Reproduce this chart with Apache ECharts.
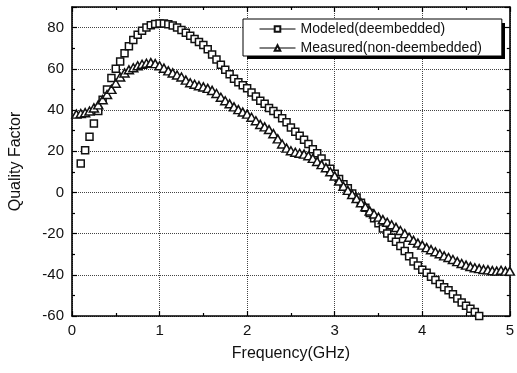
<!DOCTYPE html>
<html>
<head>
<meta charset="utf-8">
<script src="https://cdn.jsdelivr.net/npm/echarts@6/dist/echarts.min.js"></script>
<style>
html, body { margin: 0; padding: 0; background: #fff; }
#main { width: 517px; height: 373px; }
</style>
</head>
<body>
<div id="main"></div>
<script>
// Modeled (deembedded) - squares
var modeledFreq = [0.10,0.15,0.20,0.25,0.30,0.35,0.40,0.45,0.50,0.55,0.60,0.65,0.70,0.75,0.80,0.85,0.90,0.95,1.00,1.05,
    1.10,1.15,1.20,1.25,1.30,1.35,1.40,1.45,1.50,1.55,1.60,1.65,1.70,1.75,1.80,1.85,1.90,1.95,2.00,2.05,
    2.10,2.15,2.20,2.25,2.30,2.35,2.40,2.45,2.50,2.55,2.60,2.65,2.70,2.75,2.80,2.85,2.90,2.95,3.00,3.05,
    3.10,3.15,3.20,3.25,3.30,3.35,3.40,3.45,3.50,3.55,3.60,3.65,3.70,3.75,3.80,3.85,3.90,3.95,4.00,4.05,
    4.10,4.15,4.20,4.25,4.30,4.35,4.40,4.45,4.50,4.55,4.60,4.65];
var modeledQ = [14,20.5,27,33.5,39.5,45,50,55.5,60,63.5,67.5,71,74,76.5,78.5,80,81.2,81.8,82,82,
    81.6,81,80,78.8,77.5,76,74.5,73,71.5,69.5,67,64.5,62,59.5,57.3,55.2,53.5,52,50.5,48.5,
    46.5,44.5,43,41,39.5,38,36,34,31.5,29.5,27.5,25.5,23.5,21,19,16.5,14,11.5,9,6.5,
    4,2,-0.5,-2.5,-5,-7.5,-10,-12.5,-15,-17.5,-20,-22,-24,-26,-28.5,-31,-33.5,-35.5,-37.5,-39,
    -41,-42.5,-44.5,-46,-47.5,-49.5,-51.5,-53.5,-55,-56.5,-58,-60];

// Measured (non-deembedded) - triangles
var measuredFreq = [0.05,0.10,0.15,0.20,0.25,0.30,0.35,0.40,0.45,0.50,0.55,0.60,0.65,0.70,0.75,0.80,0.85,0.90,0.95,1.00,
    1.05,1.10,1.15,1.20,1.25,1.30,1.35,1.40,1.45,1.50,1.55,1.60,1.65,1.70,1.75,1.80,1.85,1.90,1.95,2.00,
    2.05,2.10,2.15,2.20,2.25,2.30,2.35,2.40,2.45,2.50,2.55,2.60,2.65,2.70,2.75,2.80,2.85,2.90,2.95,3.00,
    3.05,3.10,3.15,3.20,3.25,3.30,3.35,3.40,3.45,3.50,3.55,3.60,3.65,3.70,3.75,3.80,3.85,3.90,3.95,4.00,
    4.05,4.10,4.15,4.20,4.25,4.30,4.35,4.40,4.45,4.50,4.55,4.60,4.65,4.70,4.75,4.80,4.85,4.90,4.95,5.00];
var measuredQ = [38,38.3,38.7,39.5,41,42.5,45,47.5,50,53,56,58,59.5,60.5,61.5,62.2,62.7,63,62.5,61.5,
    60.3,59,58,57,56,54.5,53.2,52.5,51.8,51.2,50.5,49.5,48,46.2,44.5,43,41.5,40.2,39,38,
    36.5,34.8,33,31.8,30.5,28.5,26,23.5,21.5,20.2,19.5,19,18.6,17.8,16.5,15,13.5,12,10,8,
    5.5,3,1,-1,-3,-5,-7,-9,-10.5,-12,-13.2,-14.5,-15.7,-17,-18.5,-20,-21.8,-23.3,-24.6,-25.6,
    -26.8,-27.8,-28.8,-29.8,-30.8,-31.6,-32.6,-33.6,-34.5,-35.3,-36,-36.6,-37,-37.4,-37.6,-38,-38.2,-37.8,-38.2,-38.2];

var seriesNames = ['Modeled(deembedded)', 'Measured(non-deembedded)'];

function pairs(xs, ys) {
    var res = [];
    for (var i = 0; i < xs.length; i++) res.push([xs[i], ys[i]]);
    return res;
}

var font = 'Liberation Sans, Arial, sans-serif';
var myChart = echarts.init(document.getElementById('main'), null, {renderer: 'canvas'});

var frameAxis = {
    axisLine: {show: true, onZero: false, lineStyle: {color: '#000', width: 1.6}},
    axisTick: {show: true, inside: true, length: 5, lineStyle: {color: '#000', width: 1.2}},
    minorTick: {show: true, splitNumber: 2, length: 3, lineStyle: {color: '#000', width: 1.2}},
    axisLabel: {show: false},
    splitLine: {show: false}
};

var option = {
    animation: false,
    grid: {left: 69, right: 4, top: 7, bottom: 57},
    // solid drop shadow behind the legend box
    graphic: [{
        type: 'rect',
        left: 247, top: 23, z: 3,
        shape: {width: 258, height: 36},
        style: {fill: '#000'}
    }],
    legend: {
        data: seriesNames,
        orient: 'vertical',
        left: 243,
        top: 19,
        z: 5,
        itemWidth: 36,
        itemHeight: 7,
        itemGap: 5,
        padding: [3, 20, 1, 16],
        backgroundColor: '#fff',
        borderColor: '#000',
        borderWidth: 1,
        lineStyle: {color: '#000', width: 1, opacity: 1},
        textStyle: {fontFamily: font, fontSize: 14, color: '#111'}
    },
    xAxis: [
        Object.assign({}, frameAxis, {
            type: 'value', position: 'bottom', min: 0, max: 5, interval: 1,
            name: 'Frequency(GHz)', nameLocation: 'middle', nameGap: 30,
            nameTextStyle: {fontFamily: font, fontSize: 16, color: '#111'},
            axisLabel: {show: true, margin: 7, fontFamily: font, fontSize: 15, color: '#111'},
            splitLine: {show: true, lineStyle: {type: 'dotted', color: '#444', width: 1}}
        }),
        Object.assign({}, frameAxis, {
            type: 'value', position: 'top', min: 0, max: 5, interval: 1
        })
    ],
    yAxis: [
        Object.assign({}, frameAxis, {
            type: 'value', position: 'left', min: -60, max: 90, interval: 20,
            name: 'Quality Factor', nameLocation: 'middle', nameGap: 48,
            nameTextStyle: {fontFamily: font, fontSize: 16, color: '#111'},
            axisLabel: {show: true, margin: 8, showMaxLabel: false, fontFamily: font, fontSize: 15, color: '#111'},
            splitLine: {show: true, lineStyle: {type: 'dotted', color: '#444', width: 1}}
        }),
        Object.assign({}, frameAxis, {
            type: 'value', position: 'right', min: -60, max: 90, interval: 20
        })
    ],
    series: [
        {
            name: seriesNames[0],
            type: 'line',
            data: pairs(modeledFreq, modeledQ),
            symbol: 'rect',
            symbolSize: 7,
            showAllSymbol: true,
            lineStyle: {opacity: 0},
            itemStyle: {color: '#fff', borderColor: '#111', borderWidth: 1.5}
        },
        {
            name: seriesNames[1],
            type: 'line',
            data: pairs(measuredFreq, measuredQ),
            symbol: 'triangle',
            symbolSize: [9, 8],
            showAllSymbol: true,
            lineStyle: {opacity: 0},
            itemStyle: {color: '#fff', borderColor: '#111', borderWidth: 1.5}
        }
    ]
};
myChart.setOption(option);
</script>
</body>
</html>
